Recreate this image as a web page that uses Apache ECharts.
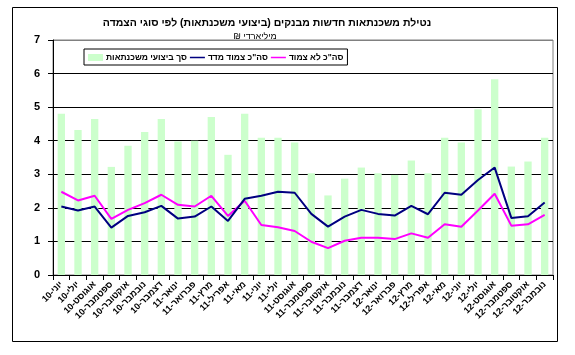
<!DOCTYPE html>
<html>
<head>
<meta charset="utf-8">
<script src="https://cdn.jsdelivr.net/npm/echarts@6/dist/echarts.min.js"></script>
<style>
html,body{margin:0;padding:0;background:#fff;}
#chart{width:575px;height:355px;direction:rtl;}
</style>
</head>
<body>
<div id="chart"></div>
<script>
const categories = ['יוני-10','יולי-10','אוגוסט-10','ספטמבר-10','אוקטובר-10','נובמבר-10','דצמבר-10','ינואר-11','פברואר-11','מרץ-11','אפריל-11','מאי-11','יוני-11','יולי-11','אוגוסט-11','ספטמבר-11','אוקטובר-11','נובמבר-11','דצמבר-11','ינואר-12','פברואר-12','מרץ-12','אפריל-12','מאי-12','יוני-12','יולי-12','אוגוסט-12','ספטמבר-12','אוקטובר-12','נובמבר-12'];
const totalMortgages = [4.80,4.32,4.65,3.22,3.85,4.26,4.65,3.98,4.00,4.71,3.58,4.80,4.09,4.09,3.95,3.03,2.37,2.87,3.20,3.03,2.98,3.41,3.03,4.09,3.95,4.94,5.83,3.23,3.38,4.09];
const cpiIndexed = [2.04,1.92,2.04,1.41,1.76,1.87,2.06,1.68,1.74,2.04,1.61,2.27,2.36,2.48,2.45,1.82,1.44,1.74,1.94,1.82,1.77,2.06,1.81,2.45,2.39,2.83,3.20,1.70,1.75,2.16];
const nonIndexed = [2.48,2.22,2.36,1.67,1.94,2.14,2.39,2.09,2.04,2.36,1.76,2.21,1.49,1.42,1.31,0.99,0.80,1.02,1.11,1.11,1.07,1.24,1.11,1.51,1.44,1.92,2.42,1.47,1.51,1.79];
const yTicks = [0,1,2,3,4,5,6,7];
const seriesNames = ['סך ביצועי משכנתאות','סה"כ צמוד מדד','סה"כ לא צמוד'];
const titleText = 'נטילת משכנתאות חדשות מבנקים (ביצועי משכנתאות) לפי סוגי הצמדה';
const unitText = 'מיליארדי ₪';

const FONT = '"Liberation Sans", Arial, "DejaVu Sans", sans-serif';
const lineIcon = 'path://M0,2.6H16V4.4H0Z M0,0H0.01V0.01H0Z M0,7H0.01V7.01H0Z';
const chart = echarts.init(document.getElementById('chart'), null, {renderer:'canvas'});
chart.setOption({
  backgroundColor:'#ffffff',
  animation:false,
  grid:{left:53,right:22,top:40,bottom:80,show:true,borderColor:'#808080',borderWidth:1,backgroundColor:'#fff'},
  graphic:[
    {type:'rect',shape:{x:12.5,y:7.5,width:545,height:334},style:{fill:'none',stroke:'#000',lineWidth:1},silent:true,z:-1},
    {type:'text',x:267,y:18,style:{text:titleText,font:'bold 10.5px '+FONT,fill:'#000',textAlign:'center'}},
    {type:'text',x:255,y:32,style:{text:unitText,font:'9px '+FONT,fill:'#000',textAlign:'center'}}
  ],
  legend:{
    left:84,top:49,
    data:[{name:seriesNames[0],icon:'rect'},{name:seriesNames[1],icon:lineIcon},{name:seriesNames[2],icon:lineIcon}],
    backgroundColor:'#fff',borderColor:'#000',borderWidth:1,
    padding:[4,4,3,4],itemGap:3,itemWidth:15,itemHeight:7,
    textStyle:{fontFamily:FONT,fontSize:8.5,fontWeight:'bold',color:'#000',padding:[0,0,0,-2]}
  },
  xAxis:{
    type:'category',data:categories,boundaryGap:true,
    axisLine:{lineStyle:{color:'#000',width:1}},
    axisTick:{show:true,length:5,lineStyle:{color:'#000'}},
    axisLabel:{rotate:45,fontFamily:FONT,fontSize:9,fontWeight:'bold',color:'#000',margin:8,interval:0}
  },
  yAxis:{
    type:'value',min:0,max:7,interval:1,
    axisLine:{show:true,lineStyle:{color:'#000',width:1}},
    axisTick:{show:true,length:5,lineStyle:{color:'#000'}},
    axisLabel:{fontFamily:FONT,fontSize:11,fontWeight:'bold',color:'#000',margin:13,
      formatter:function(v){return yTicks.indexOf(v)>=0?String(v):'';}},
    splitLine:{show:true,lineStyle:{color:['#000','#000','#000','#000','#000','#000','#000','#808080'],width:1}}
  },
  series:[
    {name:seriesNames[0],type:'bar',data:totalMortgages,barWidth:'44%',itemStyle:{color:'#CCFFCC'},z:1},
    {name:seriesNames[1],type:'line',data:cpiIndexed,symbol:'none',lineStyle:{color:'#000080',width:2},itemStyle:{color:'#000080'},z:3},
    {name:seriesNames[2],type:'line',data:nonIndexed,symbol:'none',lineStyle:{color:'#FF00FF',width:2},itemStyle:{color:'#FF00FF'},z:2}
  ]
});
</script>
</body>
</html>
